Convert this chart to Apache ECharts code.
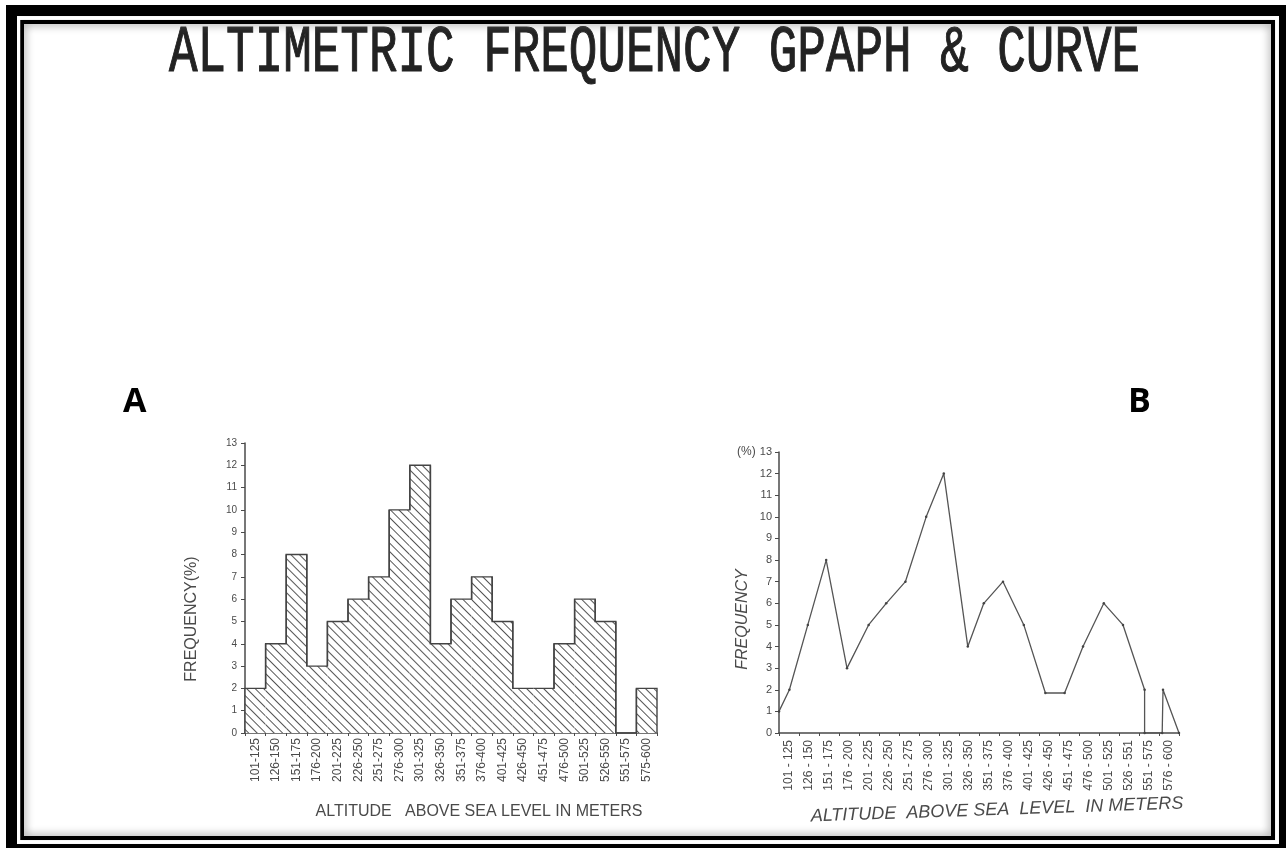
<!DOCTYPE html>
<html>
<head>
<meta charset="utf-8">
<style>html,body{margin:0;padding:0;background:#fff}#c{width:1286px;height:848px}</style>
<script src="https://cdn.jsdelivr.net/npm/echarts@6/dist/echarts.min.js"></script>
</head>
<body>
<div id="c"></div>
<script>
const titleText = 'ALTIMETRIC FREQUENCY GPAPH & CURVE';
const classLabelsA = ['101-125','126-150','151-175','176-200','201-225','226-250','251-275','276-300','301-325','326-350','351-375','376-400','401-425','426-450','451-475','476-500','501-525','526-550','551-575','575-600'];
const frequencyA = [2,4,8,3,5,6,7,10,12,4,6,7,5,2,2,4,6,5,0,2];
const classLabelsB = ['101 - 125','126 - 150','151 - 175','176 - 200','201 - 225','226 - 250','251 - 275','276 - 300','301 - 325','326 - 350','351 - 375','376 - 400','401 - 425','426 - 450','451 - 475','476 - 500','501 - 525','526 - 551','551 - 575','576 - 600'];
const altitudeB = [100,113,136,159,185,212,234,258,284,306,336,356,380,406,433,457,480,506,530,557,557,579,580,600];
const frequencyB = [1,2,5,8,3,5,6,7,10,12,4,6,7,5,1.85,1.85,4,6,5,2,0,0,2,0];

const ink = '#4a4a4a';
const hand = '"Liberation Sans",sans-serif';
const yLabel = {color: ink, fontFamily: hand, fontSize: 10, margin: 8};
const black = {fill: '#000'};

const chart = echarts.init(document.getElementById('c'), null, {renderer: 'canvas'});
chart.setOption({
  animation: false,
  backgroundColor: '#fff',
  graphic: [
    {type: 'rect', silent: true, z: 100, shape: {x: 22, y: 22, width: 1251, height: 816}, style: {fill: 'none', stroke: '#000', lineWidth: 4, shadowBlur: 10, shadowColor: '#777'}},
    {type: 'rect', silent: true, z: 101, shape: {x: 18.5, y: 18, width: 1258.5, height: 824}, style: {fill: 'none', stroke: '#fff', lineWidth: 3.5}},
    {type: 'rect', silent: true, z: 102, shape: {x: 6, y: 5, width: 1280, height: 11}, style: black},
    {type: 'rect', silent: true, z: 102, shape: {x: 6, y: 5, width: 11, height: 843}, style: black},
    {type: 'rect', silent: true, z: 102, shape: {x: 1279, y: 5, width: 7, height: 843}, style: black},
    {type: 'rect', silent: true, z: 102, shape: {x: 6, y: 844, width: 1280, height: 4}, style: black},
    {type: 'text', silent: true, x: 169, y: 19, scaleY: 1.42, style: {text: titleText, fontFamily: '"Liberation Mono",monospace', fontWeight: 'normal', fontSize: 47.6, fill: '#222', stroke: '#222', lineWidth: 0.8, verticalAlign: 'top'}},
    {type: 'text', left: 123, top: 385, style: {text: 'A', fontFamily: '"Open Sans",sans-serif', fontWeight: 'bold', fontSize: 34, fill: '#000'}},
    {type: 'text', left: 1128, top: 385, style: {text: 'B', fontFamily: '"Open Sans",sans-serif', fontWeight: 'bold', fontSize: 34, fill: '#000'}},
    {type: 'text', left: 737, top: 446, style: {text: '(%)', fontFamily: hand, fontSize: 12, fill: ink}}
  ],
  grid: [
    {left: 245, top: 443, width: 412, height: 290},
    {left: 779, top: 452, width: 400, height: 281}
  ],
  xAxis: [
    {
      type: 'category', gridIndex: 0, data: classLabelsA,
      name: 'ALTITUDE   ABOVE SEA LEVEL IN METERS', nameLocation: 'middle', nameGap: 71,
      nameTextStyle: {fontFamily: hand, fontSize: 16, color: ink, padding: [0, 0, 0, 56]},
      axisLine: {lineStyle: {color: ink, width: 1.5}},
      axisTick: {show: true, length: 3, lineStyle: {color: ink}},
      axisLabel: {rotate: 90, interval: 0, fontFamily: hand, fontSize: 12, color: ink, margin: 5}
    },
    {
      type: 'value', gridIndex: 1, min: 100, max: 600, interval: 25,
      axisLine: {onZero: false, lineStyle: {color: ink, width: 1.5}},
      axisTick: {show: true, length: 3, inside: false, lineStyle: {color: ink}},
      axisLabel: {show: false}, splitLine: {show: false}
    },
    {
      type: 'category', gridIndex: 1, data: classLabelsB, position: 'bottom',
      name: 'ALTITUDE  ABOVE SEA  LEVEL  IN METERS', nameLocation: 'middle', nameGap: 70, nameRotate: 2,
      nameTextStyle: {fontFamily: hand, fontStyle: 'italic', fontSize: 18, color: ink, align: 'center', verticalAlign: 'middle', padding: [0, 0, 0, 36]},
      axisLine: {show: false}, axisTick: {show: false},
      axisLabel: {rotate: 90, interval: 0, fontFamily: hand, fontSize: 12, color: ink, margin: 7}
    }
  ],
  yAxis: [
    {
      type: 'value', gridIndex: 0, min: 0, max: 13, interval: 1,
      name: 'FREQUENCY(%)', nameLocation: 'middle', nameGap: 45,
      nameTextStyle: {fontFamily: hand, fontSize: 16, color: ink, padding: [0, 62, 0, 0]},
      axisLine: {show: true, lineStyle: {color: ink, width: 1.5}},
      axisTick: {show: true, length: 4, lineStyle: {color: ink}},
      axisLabel: yLabel, splitLine: {show: false}
    },
    {
      type: 'value', gridIndex: 1, min: 0, max: 13, interval: 1,
      name: 'FREQUENCY', nameLocation: 'middle', nameGap: 28,
      nameTextStyle: {fontFamily: hand, fontStyle: 'italic', fontSize: 16, color: ink, padding: [0, 54, 0, 0]},
      axisLine: {show: true, lineStyle: {color: ink, width: 1.5}},
      axisTick: {show: true, length: 4, lineStyle: {color: ink}},
      axisLabel: Object.assign({}, yLabel, {fontSize: 11, margin: 7}), splitLine: {show: false}
    }
  ],
  series: [
    {
      type: 'bar', xAxisIndex: 0, yAxisIndex: 0, data: frequencyA, barWidth: '100%', silent: true,
      itemStyle: {
        color: '#fff',
        decal: {symbol: 'rect', color: '#555', backgroundColor: '#fff', dashArrayX: [1, 0], dashArrayY: [1, 5], symbolSize: 1, rotation: Math.PI / 4}
      }
    },
    {
      type: 'custom', xAxisIndex: 0, yAxisIndex: 0, data: frequencyA, silent: true, z: 5,
      renderItem: function (params, api) {
        const i = params.dataIndex;
        const v = api.value(1);
        const p = api.coord([i, v]);
        const w = api.size([1, 0])[0];
        const prev = i > 0 ? frequencyA[i - 1] : 0;
        const next = i < frequencyA.length - 1 ? frequencyA[i + 1] : 0;
        const yPrev = api.coord([i, prev])[1];
        const yNext = api.coord([i, next])[1];
        const x0 = p[0] - w / 2, x1 = p[0] + w / 2;
        return {
          type: 'polyline',
          shape: {points: [[x0, yPrev], [x0, p[1]], [x1, p[1]], [x1, yNext]]},
          style: {fill: 'none', stroke: '#444', lineWidth: 1.4}
        };
      },
      encode: {x: 0, y: 1}
    },
    {
      type: 'line', xAxisIndex: 1, yAxisIndex: 1, silent: true,
      data: altitudeB.map((a, i) => [a, frequencyB[i]]),
      showSymbol: true, symbol: 'circle', symbolSize: 2.5,
      itemStyle: {color: '#444'},
      lineStyle: {color: '#555', width: 1.3}
    }
  ]
});
</script>
</body>
</html>
